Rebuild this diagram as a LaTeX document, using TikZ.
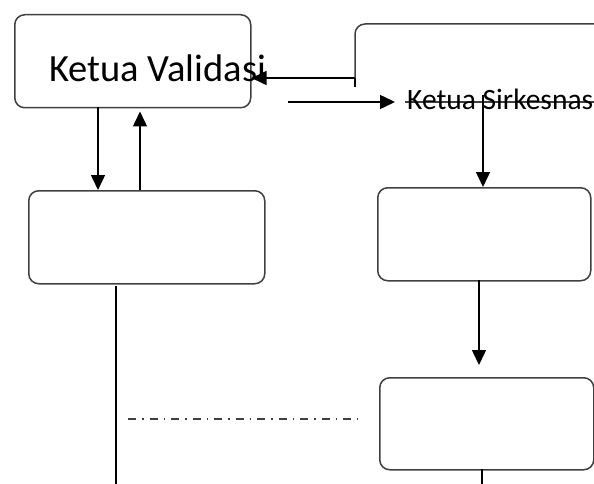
\documentclass[tikz,border=0pt]{standalone}
\usepackage{fontspec}
\setmainfont{Carlito}
\usetikzlibrary{arrows.meta}
\begin{document}
\begin{tikzpicture}[x=1pt,y=-1pt,
  box/.style={draw=black!75, line width=1.5pt, rounded corners=10pt, anchor=north west, inner sep=0pt},
  arr/.style={draw=black, line width=1.5pt, -{Triangle[length=15pt,width=14pt]}},
  ln/.style={draw=black, line width=1.5pt},
  dd/.style={draw=black!75, line width=1.8pt, dash pattern=on 8pt off 6pt on 1.5pt off 6pt},
  lbl/.style={anchor=base west, inner sep=0pt, text=black}]
\useasboundingbox (0,0) rectangle (594,484);
\begin{scope}
\clip (0,0) rectangle (594,484);
% boxes
\node[box, minimum width=236pt, minimum height=93pt] (v) at (14,14) {};
\node[box, minimum width=236pt, minimum height=93pt] (m) at (28,190) {};
\node[box, minimum width=213pt, minimum height=93pt] (r3) at (377,187) {};
\node[box, minimum width=214pt, minimum height=92pt] (r4) at (379,377) {};
% top-right box (partially visible)
\draw[draw=black!75, line width=1.5pt, rounded corners=10pt] (355,87) -- (355,24) -- (620,24);
\coordinate (b2l) at (355,78);
\coordinate (b2b) at (405,102);
\coordinate (b2r) at (600,102);
\draw[draw=black!75, line width=1.5pt] (b2b) -- (b2r);
% labels
\node[lbl, font=\fontsize{38.5}{44}\selectfont] (tv) at (49,82) {Ketua Validasi};
\node[lbl, font=\fontsize{29.5}{34}\selectfont] (ks) at (407,110) {Ketua Sirkesnas};
% connectors
\draw[arr] (b2l) -- (b2l -| v.east);
\draw[ln] (b2l) -- (355,87);
\coordinate (a0) at (288,102);
\draw[arr, shorten >=12pt] (a0) -- (a0 -| ks.west);
\coordinate (s2) at (483,95);
\draw[arr] (s2) -- (s2 |- r3.north);
\coordinate (d1) at (98,107);
\draw[arr] (d1) -- (d1 |- m.north);
\coordinate (u1) at (140,190);
\draw[arr, shorten >=3pt] (u1) -- (u1 |- v.south);
\coordinate (s3) at (479,280);
\draw[arr, shorten >=12pt] (s3) -- (s3 |- r4.north);
\coordinate (s4) at (482,469);
\coordinate (e4) at (482,484);
\draw[ln] (s4) -- (e4);
\coordinate (s5) at (116,286);
\coordinate (e5) at (116,484);
\draw[ln] (s5) -- (e5);
\coordinate (da) at (128,419);
\coordinate (db) at (358,419);
\draw[dd] (da) -- (db);
\end{scope}
\end{tikzpicture}
\end{document}
